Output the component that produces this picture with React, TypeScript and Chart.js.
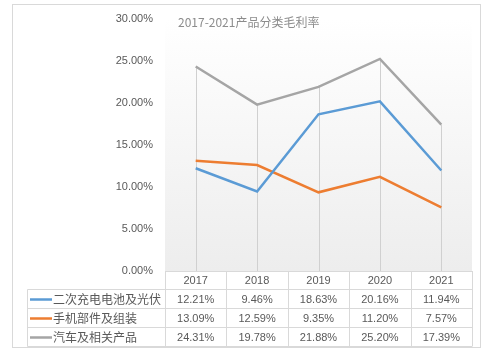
import React, { useEffect, useRef } from "react";
import { Chart, registerables } from "chart.js";

Chart.register(...registerables);

const years = ["2017", "2018", "2019", "2020", "2021"];
const seriesNames = ["二次充电电池及光伏", "手机部件及组装", "汽车及相关产品"];
const battery = [12.21, 9.46, 18.63, 20.16, 11.94];
const phone = [13.09, 12.59, 9.35, 11.2, 7.57];
const auto = [24.31, 19.78, 21.88, 25.2, 17.39];
const colors = ["#5b9bd5", "#ed7d31", "#a5a5a5"];
const titleText = "2017-2021产品分类毛利率";

const LATIN = "'Liberation Sans', 'Noto Sans CJK SC', sans-serif";
const CJK = "'Noto Sans CJK SC', sans-serif";

const fmt = (v: number) => v.toFixed(2) + "%";

const decorPlugin = {
  id: "decor",
  beforeDraw(chart: any) {
    const { ctx, chartArea } = chart;
    ctx.save();
    ctx.fillStyle = "#ffffff";
    ctx.fillRect(0, 0, chart.width, chart.height);
    const g = ctx.createLinearGradient(0, chartArea.top, 0, chartArea.bottom);
    g.addColorStop(0, "#ffffff");
    g.addColorStop(1, "#ededed");
    ctx.fillStyle = g;
    ctx.fillRect(chartArea.left, chartArea.top, chartArea.right - chartArea.left, chartArea.bottom - chartArea.top);
    ctx.strokeStyle = "#d9d9d9";
    ctx.lineWidth = 1;
    ctx.strokeRect(12.5, 4.5, 468, 343);
    ctx.fillStyle = "#8c8c8c";
    ctx.font = "12px " + CJK;
    ctx.textAlign = "left";
    ctx.textBaseline = "middle";
    ctx.fillText(titleText, 178, 22);
    ctx.restore();
  },
  beforeDatasetsDraw(chart: any) {
    const { ctx } = chart;
    const xs = chart.scales.x;
    const ys = chart.scales.y;
    const all = chart.data.datasets.map((d: any) => d.data as number[]);
    ctx.save();
    ctx.strokeStyle = "#d0d0d0";
    ctx.lineWidth = 1;
    years.forEach((_, i) => {
      const mx = Math.max(...all.map((a: number[]) => a[i]));
      const x = Math.round(xs.getPixelForValue(i)) + 0.5;
      ctx.beginPath();
      ctx.moveTo(x, ys.getPixelForValue(mx));
      ctx.lineTo(x, ys.getPixelForValue(0));
      ctx.stroke();
    });
    ctx.restore();
  },
  afterDraw(chart: any) {
    const { ctx, chartArea } = chart;
    const left = chartArea.left;
    const right = chartArea.right;
    const colW = (right - left) / years.length;
    const rowsY = [chartArea.bottom, 289.5, 308.5, 327.5, 346.5];
    const legendLeft = 27.5;
    ctx.save();
    ctx.strokeStyle = "#d9d9d9";
    ctx.lineWidth = 1;
    // header top
    ctx.beginPath();
    ctx.moveTo(left, Math.round(rowsY[0]) + 0.5);
    ctx.lineTo(right, Math.round(rowsY[0]) + 0.5);
    ctx.stroke();
    for (let r = 1; r < rowsY.length; r++) {
      ctx.beginPath();
      ctx.moveTo(legendLeft, rowsY[r]);
      ctx.lineTo(right, rowsY[r]);
      ctx.stroke();
    }
    for (let c = 0; c <= years.length; c++) {
      const x = Math.round(left + c * colW) + 0.5;
      ctx.beginPath();
      ctx.moveTo(x, rowsY[0]);
      ctx.lineTo(x, rowsY[4]);
      ctx.stroke();
    }
    ctx.beginPath();
    ctx.moveTo(legendLeft, rowsY[1]);
    ctx.lineTo(legendLeft, rowsY[4]);
    ctx.stroke();

    ctx.fillStyle = "#595959";
    ctx.textAlign = "center";
    ctx.textBaseline = "middle";
    ctx.font = "11px " + LATIN;
    years.forEach((y, i) => {
      ctx.fillText(y, left + (i + 0.5) * colW, (rowsY[0] + rowsY[1]) / 2 + 1);
    });
    const dsets = chart.data.datasets;
    dsets.forEach((d: any, r: number) => {
      const cy = (rowsY[r + 1] + rowsY[r + 2]) / 2 + 0.5;
      ctx.strokeStyle = colors[r];
      ctx.lineWidth = 2.5;
      ctx.beginPath();
      ctx.moveTo(30, cy);
      ctx.lineTo(52, cy);
      ctx.stroke();
      ctx.fillStyle = "#595959";
      ctx.textAlign = "left";
      ctx.font = "12px " + CJK;
      ctx.fillText(seriesNames[r], 53, cy);
      ctx.textAlign = "center";
      ctx.font = "11px " + LATIN;
      (d.data as number[]).forEach((v, i) => {
        ctx.fillText(fmt(v), left + (i + 0.5) * colW, cy);
      });
    });
    ctx.restore();
  },
};

export default function App() {
  const ref = useRef<HTMLCanvasElement>(null);
  useEffect(() => {
    if (!ref.current) return;
    const series = [battery, phone, auto];
    const chart = new Chart(ref.current, {
      type: "line",
      data: {
        labels: years,
        datasets: series.map((s, i) => ({
          label: seriesNames[i],
          data: s,
          borderColor: colors[i],
          backgroundColor: colors[i],
          borderWidth: 2.5,
          pointRadius: 0,
          tension: 0,
          fill: false,
        })),
      },
      options: {
        animation: false,
        responsive: false,
        maintainAspectRatio: false,
        layout: { padding: { top: 12, right: 12, left: 0, bottom: 0 } },
        plugins: { legend: { display: false }, tooltip: { enabled: false }, title: { display: false } },
        scales: {
          x: {
            type: "category",
            offset: true,
            grid: { display: false },
            border: { display: false },
            ticks: { display: false },
            afterFit: (s: any) => {
              s.height = 84;
            },
          },
          y: {
            min: 0,
            max: 30,
            border: { display: false },
            grid: { display: false, drawTicks: false },
            ticks: {
              stepSize: 5,
              padding: 12,
              color: "#595959",
              font: { size: 11, family: LATIN },
              callback: (v: any) => fmt(Number(v)),
            },
            afterFit: (s: any) => {
              s.width = 165;
            },
          },
        },
      },
      plugins: [decorPlugin],
    });
    return () => chart.destroy();
  }, []);
  return (
    <div style={{ position: "fixed", left: 0, top: 0, width: 484, height: 355, background: "#fff" }}>
      <canvas ref={ref} width={484} height={355} style={{ display: "block", width: 484, height: 355 }} />
    </div>
  );
}
